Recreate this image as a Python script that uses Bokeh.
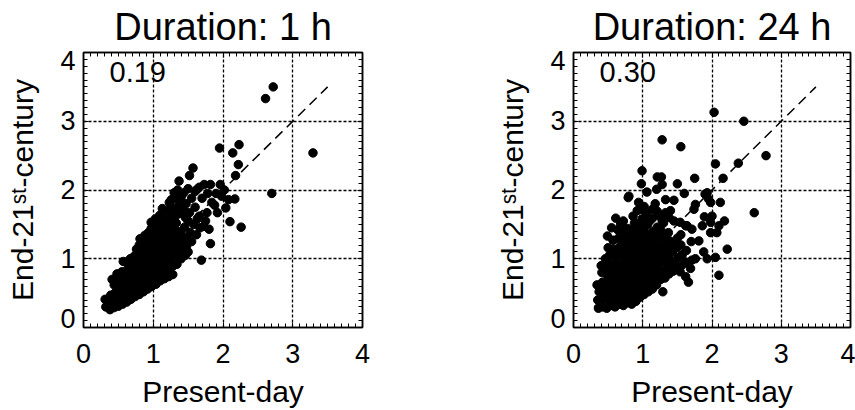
from bokeh.plotting import figure
from bokeh.models import Range1d, LinearAxis, FixedTicker, Label, Grid
from bokeh.layouts import row
from bokeh.embed import file_html
from bokeh.resources import INLINE

FONT = "Liberation Sans"

# ---------------- data (present-day, end-21st-century) ----------------
# Duration 1 h : dense core
core_1h = [
    (0.32, 0.30), (0.31, 0.41),
    (0.38, 0.26), (0.37, 0.36), (0.39, 0.47),
    (0.44, 0.29), (0.43, 0.39), (0.45, 0.50), (0.44, 0.62), (0.41, 0.70),
    (0.50, 0.31), (0.51, 0.42), (0.49, 0.54), (0.50, 0.66), (0.48, 0.78),
    (0.56, 0.34), (0.57, 0.45), (0.55, 0.57), (0.56, 0.69), (0.55, 0.81), (0.57, 0.96),
    (0.62, 0.37), (0.63, 0.49), (0.61, 0.60), (0.62, 0.72), (0.63, 0.84), (0.61, 0.95),
    (0.68, 0.41), (0.69, 0.53), (0.67, 0.64), (0.68, 0.76), (0.69, 0.88), (0.67, 1.00),
    (0.74, 0.45), (0.75, 0.56), (0.73, 0.68), (0.74, 0.80), (0.75, 0.92), (0.73, 1.04), (0.76, 1.14),
    (0.80, 0.48), (0.81, 0.60), (0.79, 0.72), (0.80, 0.84), (0.81, 0.96), (0.79, 1.08), (0.80, 1.20), (0.81, 1.29),
    (0.86, 0.52), (0.87, 0.64), (0.85, 0.76), (0.86, 0.88), (0.87, 1.00), (0.85, 1.12), (0.86, 1.24), (0.88, 1.34),
    (0.92, 0.56), (0.93, 0.68), (0.91, 0.80), (0.92, 0.92), (0.93, 1.04), (0.91, 1.16), (0.92, 1.28), (0.93, 1.38),
    (0.98, 0.60), (0.99, 0.72), (0.97, 0.84), (0.98, 0.96), (0.99, 1.08), (0.97, 1.20), (0.98, 1.32), (0.97, 1.44), (0.97, 1.53),
    (1.04, 0.63), (1.05, 0.75), (1.03, 0.87), (1.04, 0.99), (1.05, 1.11), (1.03, 1.23), (1.04, 1.35), (1.05, 1.47), (1.03, 1.58),
    (1.10, 0.68), (1.11, 0.80), (1.09, 0.92), (1.10, 1.04), (1.11, 1.16), (1.09, 1.28), (1.10, 1.40), (1.11, 1.52), (1.09, 1.63), (1.13, 1.73),
    (1.16, 0.71), (1.17, 0.83), (1.15, 0.95), (1.16, 1.07), (1.17, 1.19), (1.15, 1.31), (1.16, 1.43), (1.17, 1.55), (1.15, 1.67),
    (1.22, 0.74), (1.23, 0.86), (1.21, 0.98), (1.22, 1.10), (1.23, 1.22), (1.21, 1.34), (1.22, 1.46), (1.23, 1.58), (1.21, 1.70), (1.23, 1.82),
    (1.28, 0.77), (1.29, 0.90), (1.27, 1.02), (1.28, 1.14), (1.29, 1.26), (1.27, 1.38), (1.28, 1.50), (1.29, 1.62), (1.27, 1.74), (1.26, 1.86), (1.30, 1.96),
    (1.34, 0.92), (1.35, 1.04), (1.33, 1.16), (1.34, 1.28), (1.35, 1.40), (1.33, 1.52), (1.34, 1.64), (1.35, 1.76), (1.33, 1.88), (1.35, 2.00),
    (1.40, 1.00), (1.41, 1.12), (1.39, 1.24), (1.40, 1.36), (1.41, 1.66), (1.39, 1.78), (1.40, 1.90),
    (1.46, 1.05), (1.47, 1.30), (1.45, 1.46), (1.46, 1.60), (1.47, 1.80),
]
# Duration 1 h : sparse points
sparse_1h = [
    (2.61, 3.33), (2.72, 3.50), (3.29, 2.54), (2.70, 1.95), (2.23, 2.66), (2.14, 2.54),
    (1.95, 2.61), (2.22, 2.37), (2.18, 2.21), (2.26, 1.46), (2.10, 1.54), (2.17, 1.87),
    (2.08, 1.86), (1.96, 2.08), (1.98, 1.91), (2.04, 1.74), (1.92, 1.67), (1.84, 1.82),
    (1.77, 1.67), (1.73, 2.08), (1.63, 2.01), (1.57, 2.32), (1.52, 2.21), (1.37, 2.13),
    (1.82, 1.22), (1.69, 0.98), (1.80, 1.43), (1.72, 1.47), (1.63, 1.58), (1.52, 1.67),
    (1.53, 1.38), (1.48, 1.19), (1.82, 2.08), (1.60, 1.98), (1.88, 1.78), (1.70, 1.88),
    (1.55, 1.88), (1.60, 1.75), (1.66, 1.62), (1.75, 1.55), (1.58, 1.50), (1.50, 1.55),
    (1.55, 1.25), (1.62, 1.35), (1.67, 1.45), (1.50, 1.10), (1.44, 1.96), (1.50, 2.02),
    (1.44, 1.70), (1.66, 2.04), (1.78, 1.95), (1.90, 1.95), (2.02, 2.00),
]
# Duration 24 h : dense core
core_24h = [
    (0.36, 0.28), (0.35, 0.40), (0.37, 0.52), (0.34, 0.62),
    (0.42, 0.30), (0.43, 0.42), (0.41, 0.54), (0.42, 0.66), (0.41, 0.80), (0.40, 0.90),
    (0.48, 0.28), (0.49, 0.40), (0.47, 0.52), (0.48, 0.64), (0.49, 0.76), (0.47, 0.88), (0.46, 1.00),
    (0.54, 0.32), (0.55, 0.44), (0.53, 0.56), (0.54, 0.68), (0.55, 0.80), (0.53, 0.92), (0.52, 1.05), (0.50, 1.16),
    (0.60, 0.30), (0.61, 0.42), (0.59, 0.54), (0.60, 0.66), (0.61, 0.78), (0.59, 0.90), (0.60, 1.02), (0.58, 1.14), (0.57, 1.27),
    (0.66, 0.34), (0.67, 0.46), (0.65, 0.58), (0.66, 0.70), (0.67, 0.82), (0.65, 0.94), (0.66, 1.06), (0.67, 1.18), (0.65, 1.30), (0.64, 1.42),
    (0.72, 0.32), (0.73, 0.44), (0.71, 0.56), (0.72, 0.68), (0.73, 0.80), (0.71, 0.92), (0.72, 1.04), (0.73, 1.16), (0.71, 1.28), (0.72, 1.40),
    (0.78, 0.36), (0.79, 0.48), (0.77, 0.60), (0.78, 0.72), (0.79, 0.84), (0.77, 0.96), (0.78, 1.08), (0.79, 1.20), (0.77, 1.32), (0.78, 1.44),
    (0.84, 0.34), (0.85, 0.46), (0.83, 0.58), (0.84, 0.70), (0.85, 0.82), (0.83, 0.94), (0.84, 1.06), (0.85, 1.18), (0.83, 1.30), (0.84, 1.42),
    (0.90, 0.38), (0.91, 0.50), (0.89, 0.62), (0.90, 0.74), (0.91, 0.86), (0.89, 0.98), (0.90, 1.10), (0.91, 1.22), (0.89, 1.34), (0.90, 1.46),
    (0.96, 0.44), (0.97, 0.56), (0.95, 0.68), (0.96, 0.80), (0.97, 0.92), (0.95, 1.04), (0.96, 1.16), (0.97, 1.28), (0.95, 1.40), (0.96, 1.52),
    (1.02, 0.48), (1.03, 0.60), (1.01, 0.72), (1.02, 0.84), (1.03, 0.96), (1.01, 1.08), (1.02, 1.20), (1.03, 1.32), (1.01, 1.44),
    (1.08, 0.52), (1.09, 0.64), (1.07, 0.76), (1.08, 0.88), (1.09, 1.00), (1.07, 1.12), (1.08, 1.24), (1.09, 1.36), (1.07, 1.50),
    (1.14, 0.56), (1.15, 0.68), (1.13, 0.80), (1.14, 0.92), (1.15, 1.04), (1.13, 1.16), (1.14, 1.28), (1.15, 1.40),
    (1.20, 0.62), (1.21, 0.74), (1.19, 0.86), (1.20, 0.98), (1.21, 1.10), (1.19, 1.22), (1.20, 1.34), (1.21, 1.46),
    (1.26, 0.70), (1.27, 0.82), (1.25, 0.94), (1.26, 1.06), (1.27, 1.18), (1.25, 1.30), (1.26, 1.42),
    (1.32, 0.72), (1.33, 0.84), (1.31, 0.96), (1.32, 1.08), (1.33, 1.20), (1.31, 1.32),
    (1.38, 0.78), (1.39, 0.90), (1.37, 1.02), (1.38, 1.14), (1.39, 1.26), (1.37, 1.38),
    (1.44, 0.82), (1.45, 0.96), (1.43, 1.10), (1.44, 1.24),
    (1.50, 0.88), (1.51, 1.02), (1.49, 1.16), (1.50, 1.30),
    (1.56, 0.90), (1.57, 1.06), (1.55, 1.20),
    (1.62, 0.95), (1.63, 1.12), (1.62, 0.74),
]
# Duration 24 h : sparse points
sparse_24h = [
    (2.03, 3.13), (2.46, 3.00), (2.78, 2.50), (2.38, 2.39), (2.05, 2.38), (2.16, 2.17),
    (2.61, 1.67), (1.75, 2.17), (1.28, 2.73), (1.55, 2.63), (0.99, 2.28), (0.98, 2.09),
    (1.21, 2.19), (1.27, 2.19), (1.28, 2.08), (1.50, 2.09), (1.60, 1.95), (0.79, 1.89),
    (1.06, 1.97), (1.20, 2.01), (1.33, 1.86), (1.45, 1.85), (1.93, 1.96), (1.95, 1.87),
    (2.12, 1.82), (1.76, 1.79), (1.74, 1.72), (0.94, 1.82), (0.97, 1.72), (1.14, 1.72),
    (1.21, 1.69), (1.33, 1.67), (0.61, 1.59), (0.99, 1.58), (1.14, 1.59), (1.28, 1.56),
    (1.45, 1.55), (1.62, 1.48), (1.89, 1.61), (0.49, 1.33), (2.18, 1.55), (2.00, 1.62),
    (1.86, 1.48), (1.98, 1.53), (2.07, 1.38), (1.98, 1.38), (2.10, 1.48), (2.22, 1.14),
    (1.88, 1.10), (1.93, 1.00), (2.05, 1.02), (2.10, 0.76), (1.71, 1.43), (1.64, 1.48),
    (1.54, 1.53), (1.76, 1.00), (1.62, 0.95), (1.69, 0.86), (1.54, 0.81), (1.66, 0.66),
    (1.29, 0.52), (1.98, 1.82), (1.90, 1.94), (0.80, 1.91), (1.40, 1.70), (1.55, 1.35),
    (1.70, 1.25), (1.81, 1.26), (1.71, 0.98),
    (0.86, 1.62), (0.92, 1.70), (1.05, 1.66), (1.18, 1.80), (1.25, 1.62), (1.38, 1.60),
    (0.72, 1.55), (0.88, 1.52), (1.02, 1.76), (1.10, 1.55), (1.30, 1.52), (0.55, 1.45),
    (0.68, 1.50),
]

titles = ["Duration: 1 h", "Duration: 24 h"]
corr_text = ["0.19", "0.30"]
tick_vals = [0, 1, 2, 3, 4]
x_label = "Present-day"
y_label = "End-21\u02e2\u1d57-century"
# IDL keeps the end labels of the y axis inside the box
ytick_overrides = {0: "0\n", 4: "\n4"}

FS_TITLE = "38px"
FS_LAB = "30px"
FS_TICK = "27px"
FS_CORR = "29px"


def panel(core, sparse, title, corr, width, left_b, right_b):
    p = figure(width=width, height=410, x_range=Range1d(0, 4), y_range=Range1d(0, 4),
               output_backend="svg", toolbar_location=None, title=title,
               x_axis_location=None, y_axis_location=None,
               min_border_left=left_b, min_border_right=right_b,
               min_border_top=52, min_border_bottom=81)
    p.grid.visible = False
    p.outline_line_color = "black"
    p.outline_line_width = 1.5
    p.background_fill_color = "white"
    p.border_fill_color = "white"

    p.title.align = "center"
    p.title.vertical_align = "top"
    p.title.text_font = FONT
    p.title.text_font_size = FS_TITLE
    p.title.text_font_style = "normal"
    p.title.text_color = "black"
    p.title.standoff = 6

    ticker = FixedTicker(ticks=tick_vals, minor_ticks=[i / 10 for i in range(41)])
    for side in ["below", "left", "above", "right"]:
        shown = side in ("below", "left")
        ax = LinearAxis(ticker=ticker,
                        axis_line_color="black", axis_line_width=1.5,
                        major_tick_in=5, major_tick_out=0, minor_tick_in=4, minor_tick_out=0,
                        major_tick_line_color="black", minor_tick_line_color="black",
                        major_tick_line_width=1, minor_tick_line_width=1)
        if shown:
            ax.major_label_text_font_size = FS_TICK
            ax.major_label_text_font = FONT
            ax.major_label_text_color = "black"
            ax.axis_label_text_font = FONT
            ax.axis_label_text_font_size = FS_LAB
            ax.axis_label_text_font_style = "normal"
            ax.axis_label_text_color = "black"
        else:
            ax.major_label_text_font_size = "0px"
            ax.major_label_text_color = None
            ax.major_label_standoff = 0
        if side == "below":
            ax.major_label_standoff = 16
            ax.axis_label = x_label
            ax.axis_label_standoff = 9
        elif side == "left":
            ax.major_label_standoff = 8
            ax.major_label_overrides = ytick_overrides
            ax.major_label_text_line_height = 0.55
            ax.axis_label = y_label
            ax.axis_label_standoff = 18
        p.add_layout(ax, side)
    for dim in (0, 1):
        p.add_layout(Grid(dimension=dim, ticker=ticker, grid_line_color="black",
                          grid_line_dash="3 2", grid_line_width=1.3))

    diag = [0.3, 3.5]
    p.line(diag, diag, line_color="black", line_width=1.5, line_dash="10 6")
    xs = [a for a, b in core + sparse]
    ys = [b for a, b in core + sparse]
    p.scatter(xs, ys, size=8.5, fill_color="black", line_color="black")

    p.add_layout(Label(x=0, y=4, text=corr, text_font=FONT, text_font_size=FS_CORR,
                       text_color="black", text_align="left", text_baseline="alphabetic",
                       x_offset=26, y_offset=-19))
    return p


p1 = panel(core_1h, sparse_1h, titles[0], corr_text[0], 438, 83, 76)
p2 = panel(core_24h, sparse_24h, titles[1], corr_text[1], 417, 135, 5)
layout = row(p1, p2)

open("out.html", "w").write(file_html(layout, INLINE))
